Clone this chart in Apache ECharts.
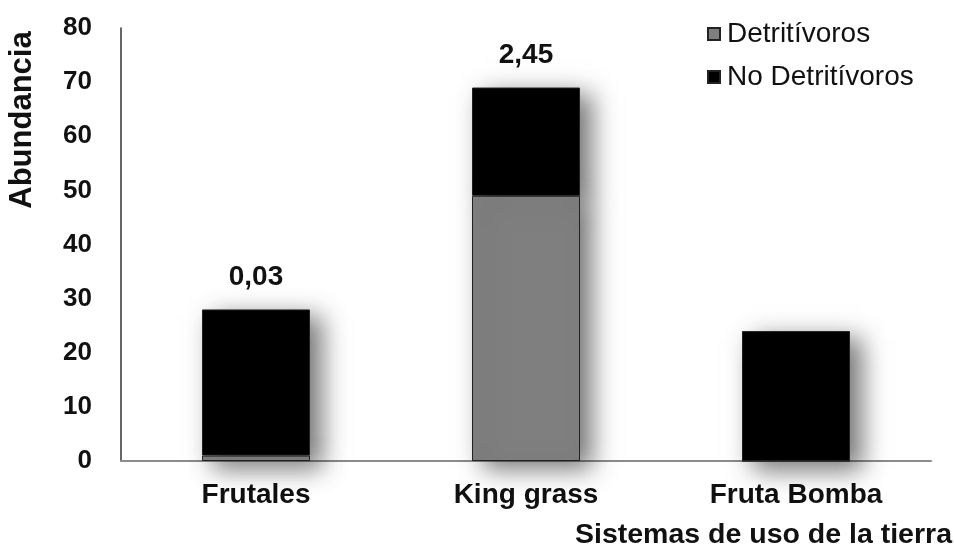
<!DOCTYPE html>
<html>
<head>
<meta charset="utf-8">
<script src="https://cdn.jsdelivr.net/npm/echarts@6/dist/echarts.min.js"></script>
<style>
html,body{margin:0;padding:0;background:#fff;}
#chart{width:954px;height:551px;}
</style>
</head>
<body>
<div id="chart"></div>
<script>
const categories = ['Frutales', 'King grass', 'Fruta Bomba'];
const detritivoros = [1, 49, 0];
const noDetritivoros = [27, 20, 24];
const topLabels = ['0,03', '2,45', ''];
const yTicks = [0, 10, 20, 30, 40, 50, 60, 70, 80];

const FONT = '"Liberation Sans", Arial, sans-serif';
const chart = echarts.init(document.getElementById('chart'));
const shadow = {
  shadowBlur: 24,
  shadowColor: 'rgba(0,0,0,0.55)',
  shadowOffsetX: 11,
  shadowOffsetY: 7
};
chart.setOption({
  backgroundColor: '#ffffff',
  animation: false,
  grid: { left: 121, right: 23, top: 28, bottom: 90 },
  legend: {
    orient: 'vertical',
    left: 702,
    top: 15,
    itemWidth: 12,
    itemHeight: 12,
    itemGap: 15,
    icon: 'rect',
    textStyle: { fontFamily: FONT, fontSize: 28, color: '#111', padding: [0, 0, 0, 2] },
    data: ['Detritívoros', 'No Detritívoros']
  },
  xAxis: {
    type: 'category',
    data: categories,
    axisLine: { lineStyle: { color: '#8c8c8c', width: 2 } },
    axisTick: { show: false },
    axisLabel: { fontFamily: FONT, fontSize: 28, fontWeight: 'bold', color: '#111', margin: 20 }
  },
  yAxis: {
    type: 'value',
    min: yTicks[0],
    max: yTicks[yTicks.length - 1],
    interval: 10,
    splitLine: { show: false },
    axisLine: { show: true, lineStyle: { color: '#333', width: 1.5 } },
    axisTick: { show: false },
    axisLabel: { fontFamily: FONT, fontSize: 26, fontWeight: 'bold', color: '#111', margin: 29 }
  },
  graphic: [
    {
      type: 'text',
      x: 22, y: 120,
      rotation: Math.PI / 2,
      style: {
        text: 'Abundancia',
        fontFamily: FONT, fontSize: 31, fontWeight: 'bold', fill: '#111',
        align: 'center', verticalAlign: 'middle'
      }
    },
    {
      type: 'text',
      right: 2, top: 521,
      style: {
        text: 'Sistemas de uso de la tierra',
        fontFamily: FONT, fontSize: 28.5, fontWeight: 'bold', fill: '#111'
      }
    }
  ],
  series: [
    {
      name: 'Detritívoros',
      type: 'bar',
      stack: 'total',
      z: 3,
      barWidth: '40%',
      data: detritivoros,
      itemStyle: Object.assign({ color: '#7f7f7f', borderColor: '#222', borderWidth: 1 }, shadow)
    },
    {
      name: 'No Detritívoros',
      type: 'bar',
      stack: 'total',
      z: 2,
      barWidth: '40%',
      data: noDetritivoros,
      itemStyle: Object.assign({ color: '#000000', borderColor: '#222', borderWidth: 1 }, shadow),
      label: {
        show: true,
        position: 'top',
        distance: 18,
        fontFamily: FONT, fontSize: 28, fontWeight: 'bold', color: '#111',
        formatter: p => topLabels[p.dataIndex]
      }
    }
  ]
});
</script>
</body>
</html>
